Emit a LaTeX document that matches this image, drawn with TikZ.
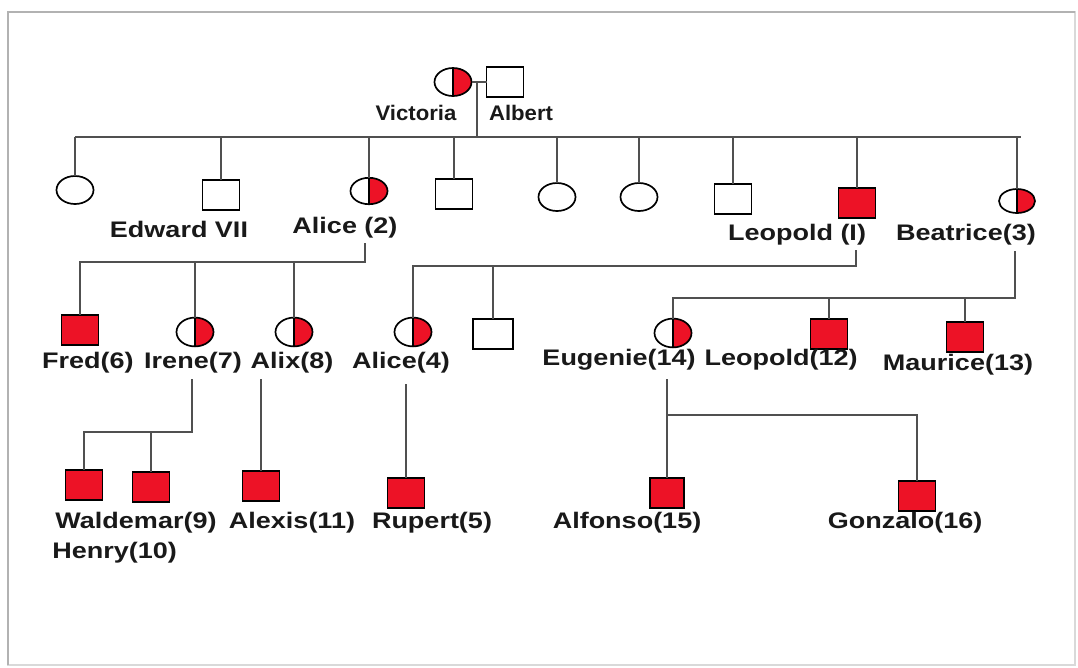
\documentclass[tikz,border=0pt]{standalone}
\usepackage{fontspec}
\setmainfont{Liberation Sans}
\newfontfamily\lblfont{Liberation Sans}[FakeStretch=1.2]
\newfontfamily\topfont{Liberation Sans}[FakeStretch=1.05]
\usetikzlibrary{shapes.geometric}
\definecolor{kred}{RGB}{237,18,38}
\definecolor{linec}{RGB}{80,80,80}
\definecolor{txtc}{RGB}{25,25,25}
\tikzset{
  px/.style={x=0.025cm,y=-0.025cm},
  person/.style={draw=black, line width=1.2pt, inner sep=0pt, outer sep=0pt},
  male/.style={person, rectangle, minimum width=0.925cm, minimum height=0.74cm},
  female/.style={person, ellipse, minimum width=0.925cm, minimum height=0.7cm},
  affected/.style={male, fill=kred},
  carrier/.style={female, path picture={
      \fill[kred] (path picture bounding box.north) rectangle (path picture bounding box.south east);
      \draw[line width=1.2pt] (path picture bounding box.north) -- (path picture bounding box.south);}},
  link/.style={draw=linec, line width=0.85pt},
  lbl/.style={font=\lblfont\bfseries\fontsize{16}{18}\selectfont, text=txtc, inner sep=0pt},
  toplbl/.style={lbl, font=\topfont\bfseries\fontsize{15}{17}\selectfont},
}
\begin{document}
\begin{tikzpicture}[px]
\useasboundingbox (0,0) rectangle (1078,667);
% page frame
\draw[gray!30, line width=1.2pt] (8,12) rectangle (1075,665);
\draw[gray!60, line width=1.4pt] (8,665) -- (8,12) -- (1075,12);

% generation I
\node[carrier] (vic) at (453,82) {};
\node[male, minimum height=0.75cm] (alb) at (505,82) {};
\node[toplbl] (lvic) at (416,113) {Victoria};
\node[toplbl] (lalb) at (521,113) {Albert};

% generation II
\node[female] (c1) at (75,190) {};
\node[male] (edw) at (221,195) {};
\node[carrier, minimum height=0.66cm] (ali2) at (369,191) {};
\node[male] (s4) at (454,194) {};
\node[female] (c5) at (557,197) {};
\node[female] (c6) at (639,197) {};
\node[male] (s7) at (733,199) {};
\node[affected] (leo) at (857,203) {};
\node[carrier, minimum width=0.9cm, minimum height=0.6cm] (bea) at (1017,201) {};
\node[lbl] (ledw) at (179,229) {Edward VII};
\node[lbl] (lali2) at (345,228) {Alice (2)};
\node[lbl] (lleo) at (797,235) {Leopold (I)};
\node[lbl] (lbea) at (966,235) {Beatrice(3)};

% generation III
\node[affected] (fred) at (80,330) {};
\node[carrier, minimum height=0.72cm] (ire) at (195,332) {};
\node[carrier, minimum height=0.72cm] (alx) at (294,332) {};
\node[carrier, minimum height=0.72cm] (ali4) at (413,332) {};
\node[male, minimum width=1cm] (squ) at (493,334) {};
\node[carrier, minimum height=0.72cm] (eug) at (673,333) {};
\node[affected] (leo12) at (829,334) {};
\node[affected] (mau) at (965,337) {};
\node[lbl, anchor=east] (lfred) at (134,363) {Fred(6)};
\node[lbl] (lire) at (193,363) {Irene(7)};
\node[lbl] (lalx) at (292,363) {Alix(8)};
\node[lbl] (lali4) at (401,363) {Alice(4)};
\node[lbl] (leug) at (619,360) {Eugenie(14)};
\node[lbl] (lleo12) at (781,360) {Leopold(12)};
\node[lbl] (lmau) at (958,365) {Maurice(13)};

% generation IV
\node[affected] (wal) at (84,485) {};
\node[affected] (hen) at (151,487) {};
\node[affected] (alexis) at (261,486) {};
\node[affected] (rup) at (406,493) {};
\node[affected, minimum width=0.85cm] (alf) at (667,493) {};
\node[affected] (gon) at (917,496) {};
\node[lbl] (lwal) at (136,523) {Waldemar(9)};
\node[lbl, anchor=west] (lhen) at (52,553) {Henry(10)};
\node[lbl] (lalexis) at (292,523) {Alexis(11)};
\node[lbl] (lrup) at (432,523) {Rupert(5)};
\node[lbl] (lalf) at (627,523) {Alfonso(15)};
\node[lbl] (lgon) at (905,523) {Gonzalo(16)};

% marriage and first sibship
\coordinate (mar) at (477,82);
\coordinate (sibL) at (75,137);
\coordinate (sibR) at (1021,137);
\draw[link] (vic) -- (alb);
\draw[link] (mar) -- (mar |- sibL);
\draw[link] (sibL) -- (sibR);
\foreach \c in {c1,edw,ali2,s4,c5,c6,s7,leo,bea}
  \draw[link] (\c.north) -- (\c.north |- sibL);

% children of Alice (2)
\coordinate (a2top) at (365,243);
\coordinate (a2bar) at (365,262);
\draw[link] (a2top) -- (a2bar) -- (fred.north |- a2bar) -- (fred.north);
\draw[link] (ire.north) -- (ire.north |- a2bar);
\draw[link] (alx.north) -- (alx.north |- a2bar);

% children of Leopold (I)
\coordinate (l1top) at (856,250);
\coordinate (l1bar) at (856,266);
\draw[link] (l1top) -- (l1bar) -- (ali4.north |- l1bar) -- (ali4.north);
\draw[link] (squ.north) -- (squ.north |- l1bar);

% children of Beatrice (3)
\coordinate (b3top) at (1015,251);
\coordinate (b3bar) at (1015,298);
\draw[link] (b3top) -- (b3bar) -- (eug.north |- b3bar) -- (eug.north);
\draw[link] (leo12.north) -- (leo12.north |- b3bar);
\draw[link] (mau.north) -- (mau.north |- b3bar);

% children of Irene (7)
\coordinate (i7top) at (192,379);
\coordinate (i7bar) at (192,432);
\draw[link] (i7top) -- (i7bar) -- (wal.north |- i7bar) -- (wal.north);
\draw[link] (hen.north) -- (hen.north |- i7bar);

% child of Alix (8)
\coordinate (a8top) at (261,379);
\draw[link] (alexis.north |- a8top) -- (alexis.north);

% child of Alice (4)
\coordinate (a4top) at (406,384);
\draw[link] (rup.north |- a4top) -- (rup.north);

% children of Eugenie (14)
\coordinate (e14top) at (667,379);
\coordinate (e14bar) at (667,415);
\draw[link] (alf.north |- e14top) -- (alf.north);
\draw[link] (alf.north |- e14bar) -- (gon.north |- e14bar) -- (gon.north);
\end{tikzpicture}
\end{document}
